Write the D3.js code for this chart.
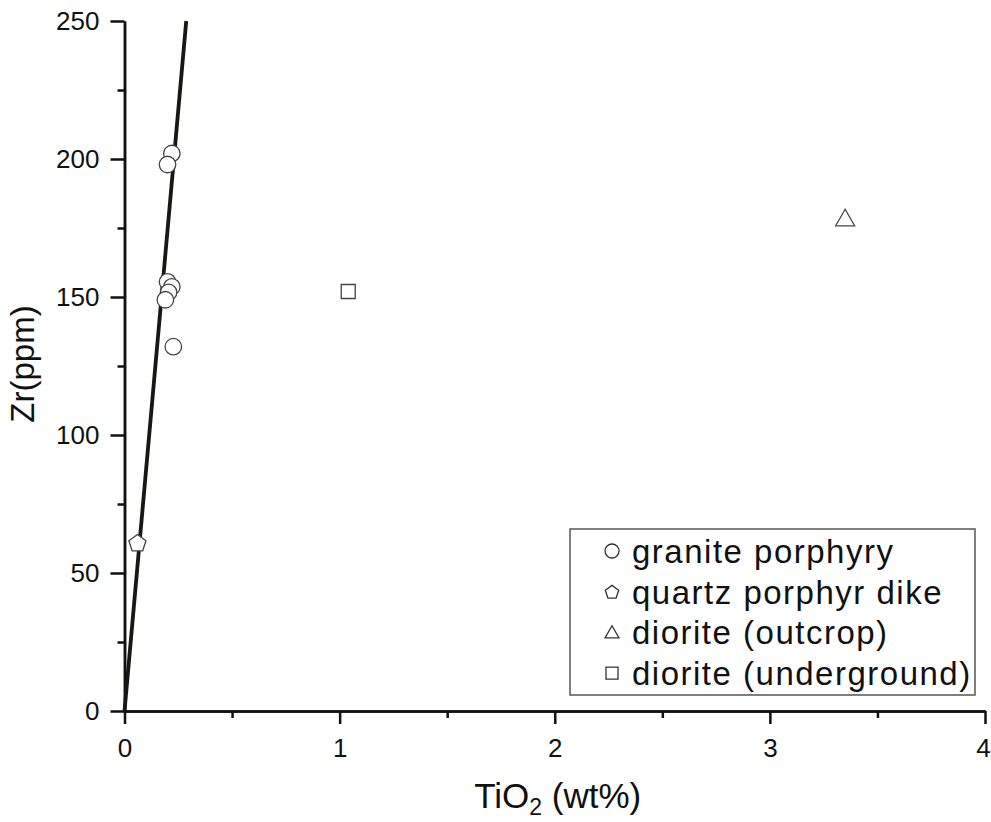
<!DOCTYPE html>
<html lang="en">
<head>
    <meta charset="UTF-8">
    <title>Zr vs TiO2</title>
    <script src="https://d3js.org/d3.v7.min.js"></script>
    <style>
        body {
            margin: 0;
            background: #fff;
        }
        svg {
            font-family: "Liberation Sans", Arial, sans-serif;
        }
        .axis path,
        .axis line {
            fill: none;
            stroke: #111;
            stroke-width: 2.5;
        }
        .axis text {
            fill: #111;
            font-size: 26px;
        }
    </style>
</head>
<body>
<div id="chart"></div>
<script>

    // data
    var granite = [
        [0.22, 202], [0.20, 198], [0.20, 155.5], [0.22, 153.7],
        [0.205, 151.7], [0.19, 149], [0.227, 132]
    ];
    var quartzDike = [[0.06, 61]];
    var dioriteOutcrop = [[3.35, 178.5]];
    var dioriteUnderground = [[1.04, 152]];

    // trend line through origin
    var trendLine = [[0, 0], [0.287, 250]];

    var xTicks = [0, 1, 2, 3, 4];
    var xMinor = [0.5, 1.5, 2.5, 3.5];
    var yTicks = [0, 50, 100, 150, 200, 250];
    var yMinor = [25, 75, 125, 175, 225];

    var legendLabels = ["granite porphyry", "quartz porphyr dike", "diorite (outcrop)", "diorite (underground)"];
    var legendShapes = ["circle", "pentagon", "triangle", "square"];

    var width = 991, height = 822;
    var margin = {top: 21, right: 6, bottom: 111, left: 124.5};

    var svg = d3.select("#chart").append("svg")
            .attr("width", width)
            .attr("height", height);

    var x = d3.scaleLinear()
            .domain([0, 4])
            .range([margin.left, width - margin.right]);

    var y = d3.scaleLinear()
            .domain([0, 250])
            .range([height - margin.bottom, margin.top]);

    // axes
    svg.append("g")
            .attr("class", "axis")
            .attr("transform", "translate(0," + y(0) + ")")
            .call(d3.axisBottom(x).tickValues(xMinor).tickSize(7).tickSizeOuter(0).tickFormat(""));

    var xAxis = svg.append("g")
            .attr("class", "axis")
            .attr("transform", "translate(0," + y(0) + ")")
            .call(d3.axisBottom(x).tickValues(xTicks).tickSize(13).tickSizeOuter(0).tickPadding(15).tickFormat(d3.format("d")));

    // keep the last label inside the page
    xAxis.selectAll(".tick text")
            .filter(function(d) { return d === 4; })
            .attr("dx", -2);

    svg.append("g")
            .attr("class", "axis")
            .attr("transform", "translate(" + x(0) + ",0)")
            .call(d3.axisLeft(y).tickValues(yMinor).tickSize(7).tickSizeOuter(0).tickFormat(""));

    svg.append("g")
            .attr("class", "axis")
            .attr("transform", "translate(" + x(0) + ",0)")
            .call(d3.axisLeft(y).tickValues(yTicks).tickSize(14).tickSizeOuter(0).tickPadding(11).tickFormat(d3.format("d")));

    // axis titles
    var xTitle = svg.append("text")
            .attr("x", (x(0) + x(4)) / 2 + 3)
            .attr("y", 808)
            .attr("text-anchor", "middle")
            .style("font-size", "35px")
            .style("fill", "#111");
    xTitle.append("tspan").text("TiO");
    xTitle.append("tspan").attr("dy", 7).style("font-size", "23px").text("2");
    xTitle.append("tspan").attr("dy", -7).text(" (wt%)");

    svg.append("text")
            .attr("transform", "translate(34," + (y(125) - 2) + ") rotate(-90)")
            .attr("text-anchor", "middle")
            .style("font-size", "33px")
            .style("fill", "#111")
            .text("Zr(ppm)");

    // trend line
    var line = d3.line()
            .x(function(d) { return x(d[0]); })
            .y(function(d) { return y(d[1]); });

    svg.append("path")
            .datum(trendLine)
            .attr("d", line)
            .attr("fill", "none")
            .attr("stroke", "#1a1612")
            .attr("stroke-width", 3.8);

    // symbol generators
    function shapePath(shape, s) {
        if (shape === "circle") return d3.symbol(d3.symbolCircle, Math.PI * s * s / 4)();
        if (shape === "square") return d3.symbol(d3.symbolSquare, s * s)();
        if (shape === "triangle") {
            var h = s * 0.87;
            return "M0," + (-h * 0.55) + "L" + (s / 2) + "," + (h * 0.45) + "L" + (-s / 2) + "," + (h * 0.45) + "Z";
        }
        // pentagon
        var pts = d3.range(5).map(function(i) {
            var a = -Math.PI / 2 + i * 2 * Math.PI / 5;
            return [Math.cos(a) * s / 2, Math.sin(a) * s / 2 + s * 0.05];
        });
        return "M" + pts.join("L") + "Z";
    }

    var groups = [
        {data: granite, shape: "circle", size: 16.5},
        {data: quartzDike, shape: "pentagon", size: 18},
        {data: dioriteOutcrop, shape: "triangle", size: 19},
        {data: dioriteUnderground, shape: "square", size: 14}
    ];

    groups.forEach(function(g) {
        svg.append("g").selectAll("path")
                .data(g.data)
                .enter().append("path")
                .attr("transform", function(d) { return "translate(" + x(d[0]) + "," + y(d[1]) + ")"; })
                .attr("d", shapePath(g.shape, g.size))
                .attr("fill", "#fff")
                .attr("stroke", "#444")
                .attr("stroke-width", 1.3);
    });

    // legend
    var legend = svg.append("g");
    legend.append("rect")
            .attr("x", 570)
            .attr("y", 529)
            .attr("width", 405)
            .attr("height", 166)
            .attr("fill", "#fff")
            .attr("stroke", "#555")
            .attr("stroke-width", 1.5);

    var items = legend.selectAll(".item")
            .data(legendLabels)
            .enter().append("g")
            .attr("class", "item")
            .attr("transform", function(d, i) { return "translate(612," + (551 + i * 40.7) + ")"; });

    items.append("path")
            .attr("d", function(d, i) { return shapePath(legendShapes[i], legendShapes[i] === "square" ? 12 : 14); })
            .attr("fill", "#fff")
            .attr("stroke", "#333")
            .attr("stroke-width", 1.3);

    items.append("text")
            .attr("x", 20)
            .attr("dy", "0.36em")
            .style("font-size", "33px")
            .style("letter-spacing", "1.5px")
            .style("fill", "#111")
            .text(function(d) { return d; });

</script>
</body>
</html>
